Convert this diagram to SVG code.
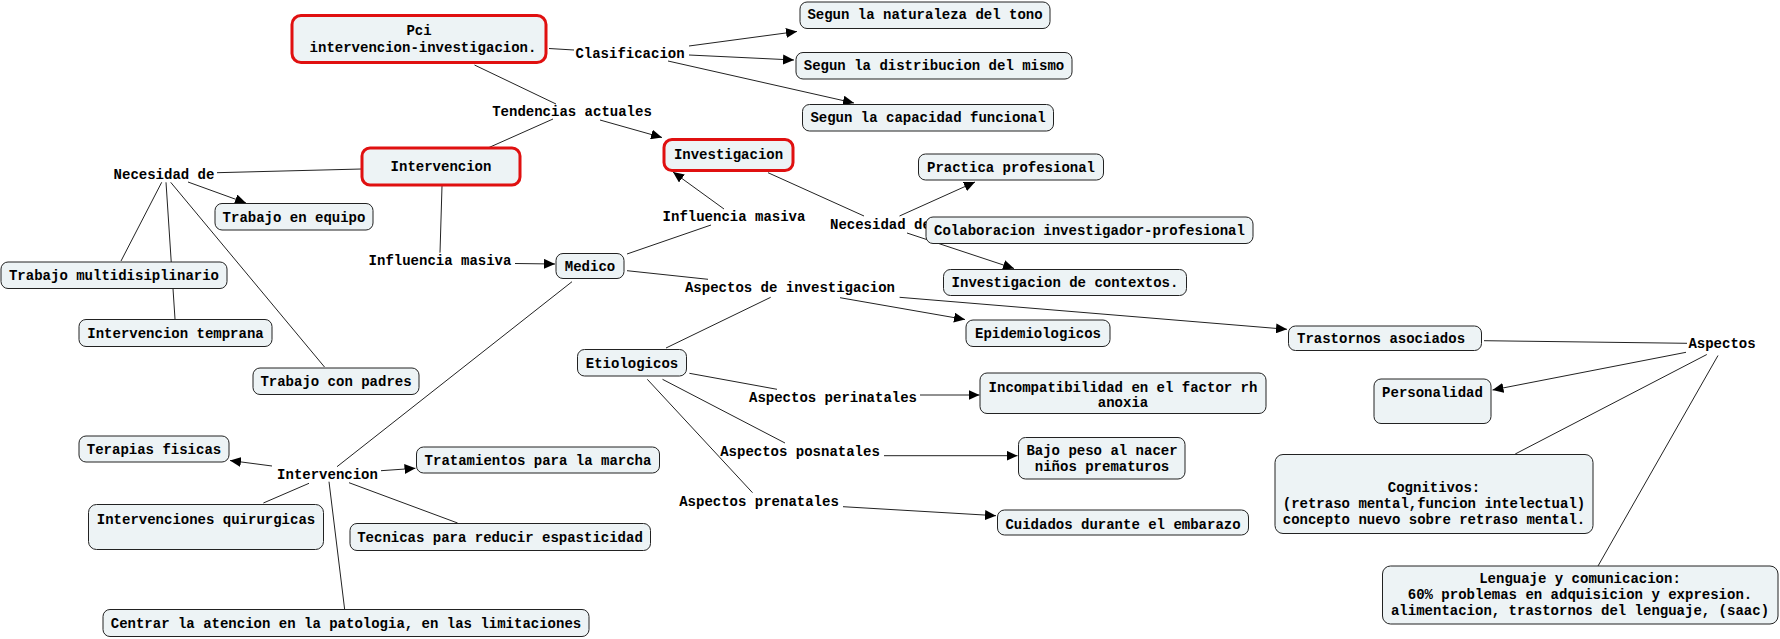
<svg xmlns="http://www.w3.org/2000/svg" width="1780" height="639" viewBox="0 0 1780 639">
<style>
text{font-family:"Liberation Mono","Courier New",monospace;font-size:14px;font-weight:bold;fill:#000}
.c{text-anchor:middle}
.b{fill:#edf3f5;stroke:#222;stroke-width:1}
.r{fill:#edf3f5;stroke:#e01010;stroke-width:3}
#conn line{stroke:#222;stroke-width:1;fill:none}
#conn line.a{marker-end:url(#ah)}
</style>
<defs>
<marker id="ah" markerUnits="userSpaceOnUse" markerWidth="11" markerHeight="10" refX="11" refY="5" orient="auto">
<path d="M0,0 L11,5 L0,10 z" fill="#000"/>
</marker>
</defs>
<rect width="1780" height="639" fill="#fff"/>
<g id="conn">
<line x1="549" y1="48.5" x2="574" y2="50"/>
<line class="a" x1="689" y1="46" x2="797" y2="31.5"/>
<line class="a" x1="689" y1="55" x2="794" y2="60"/>
<line class="a" x1="668" y1="61" x2="854" y2="103"/>
<line x1="474.5" y1="65" x2="556" y2="104"/>
<line x1="553" y1="119" x2="489" y2="147.5"/>
<line class="a" x1="600" y1="120" x2="662" y2="137.5"/>
<line x1="361.5" y1="169" x2="217" y2="172.7"/>
<line class="a" x1="188" y1="182" x2="246" y2="203"/>
<line x1="161.7" y1="182.3" x2="121" y2="261"/>
<line x1="166" y1="182.3" x2="175" y2="319"/>
<line x1="170.7" y1="182.3" x2="324.5" y2="367"/>
<line x1="442" y1="186" x2="440" y2="252.7"/>
<line class="a" x1="515" y1="263.5" x2="555" y2="264"/>
<line x1="627" y1="254" x2="711" y2="225"/>
<line class="a" x1="724" y1="209" x2="673" y2="172"/>
<line x1="768" y1="172.7" x2="864" y2="216"/>
<line class="a" x1="899.5" y1="216" x2="975" y2="182"/>
<line class="a" x1="907" y1="233" x2="1014" y2="268.5"/>
<line x1="627" y1="270.7" x2="708" y2="279.3"/>
<line x1="770.7" y1="297.3" x2="666" y2="348"/>
<line class="a" x1="840" y1="297.7" x2="965" y2="319.5"/>
<line class="a" x1="899.6" y1="297.3" x2="1287" y2="329.3"/>
<line x1="1484" y1="340.7" x2="1687" y2="343.3"/>
<line class="a" x1="1686" y1="352.3" x2="1492.5" y2="390"/>
<line x1="1706.8" y1="354.5" x2="1515.2" y2="454"/>
<line x1="1718" y1="355.5" x2="1598" y2="566"/>
<line x1="689.4" y1="373.3" x2="777" y2="389.3"/>
<line class="a" x1="920" y1="395" x2="979.5" y2="395"/>
<line x1="662.5" y1="379.3" x2="785" y2="443"/>
<line class="a" x1="884" y1="455.7" x2="1017.5" y2="455.7"/>
<line x1="647.3" y1="379.3" x2="752.5" y2="492.7"/>
<line class="a" x1="843" y1="506.7" x2="996" y2="515.7"/>
<line x1="572" y1="281.7" x2="337" y2="466.7"/>
<line class="a" x1="272" y1="466" x2="230" y2="460.5"/>
<line class="a" x1="381" y1="470.7" x2="415.5" y2="468.3"/>
<line x1="309" y1="483.3" x2="263.4" y2="503"/>
<line x1="329" y1="481.7" x2="344.6" y2="609"/>
<line x1="349" y1="482.7" x2="457.6" y2="523"/>
</g>
<g id="lbl_clasificacion"><text class="c" x="630" y="58">Clasificacion</text></g>
<g id="lbl_tendencias"><text class="c" x="572" y="116">Tendencias actuales</text></g>
<g id="lbl_necesidad1"><text class="c" x="164" y="179">Necesidad de</text></g>
<g id="lbl_influencia1"><text class="c" x="440" y="265">Influencia masiva</text></g>
<g id="lbl_influencia2"><text class="c" x="734" y="221">Influencia masiva</text></g>
<g id="lbl_necesidad2"><text x="830" y="229">Necesidad de</text></g>
<g id="lbl_aspinv"><text class="c" x="790" y="292">Aspectos de investigacion</text></g>
<g id="lbl_perinatales"><text class="c" x="833" y="402">Aspectos perinatales</text></g>
<g id="lbl_posnatales"><text class="c" x="800" y="456">Aspectos posnatales</text></g>
<g id="lbl_prenatales"><text class="c" x="759" y="506">Aspectos prenatales</text></g>
<g id="lbl_aspectos"><text class="c" x="1722" y="348">Aspectos</text></g>
<g id="lbl_intervencion2"><text class="c" x="327.5" y="479">Intervencion</text></g>
<g id="n_pci"><rect class="r" x="292" y="15.5" width="254" height="47" rx="9"/><text class="c" x="419" y="35">Pci</text><text class="c" x="423" y="52">intervencion-investigacion.</text></g>
<g id="n_nat"><rect class="b" x="800" y="2" width="250" height="26.5" rx="7"/><text class="c" x="925" y="19">Segun la naturaleza del tono</text></g>
<g id="n_dist"><rect class="b" x="796" y="52.5" width="276" height="26.5" rx="7"/><text class="c" x="934" y="70">Segun la distribucion del mismo</text></g>
<g id="n_cap"><rect class="b" x="802.5" y="104.5" width="251" height="26.5" rx="7"/><text class="c" x="928" y="122">Segun la capacidad funcional</text></g>
<g id="n_investigacion"><rect class="r" x="664" y="139.5" width="129" height="31" rx="8"/><text class="c" x="728.5" y="159">Investigacion</text></g>
<g id="n_intervencion"><rect class="r" x="362" y="148" width="158" height="37" rx="8"/><text class="c" x="441" y="171">Intervencion</text></g>
<g id="n_equipo"><rect class="b" x="215" y="203.5" width="158" height="26.5" rx="7"/><text class="c" x="294" y="221.5">Trabajo en equipo</text></g>
<g id="n_multi"><rect class="b" x="1" y="262" width="226" height="26.5" rx="7"/><text class="c" x="114" y="280">Trabajo multidisiplinario</text></g>
<g id="n_temprana"><rect class="b" x="79" y="319.5" width="193" height="27" rx="7"/><text class="c" x="175.5" y="337.5">Intervencion temprana</text></g>
<g id="n_padres"><rect class="b" x="253" y="368" width="166" height="26.5" rx="7"/><text class="c" x="336" y="385.5">Trabajo con padres</text></g>
<g id="n_medico"><rect class="b" x="556" y="253.5" width="68" height="25" rx="7"/><text class="c" x="590" y="271">Medico</text></g>
<g id="n_practica"><rect class="b" x="918.5" y="154" width="185" height="26" rx="7"/><text class="c" x="1011" y="171.5">Practica profesional</text></g>
<g id="n_colab"><rect class="b" x="926" y="217" width="327" height="26.5" rx="7"/><text class="c" x="1089.5" y="234.5">Colaboracion investigador-profesional</text></g>
<g id="n_contextos"><rect class="b" x="943.5" y="269.5" width="243" height="26" rx="7"/><text class="c" x="1065" y="287">Investigacion de contextos.</text></g>
<g id="n_epidem"><rect class="b" x="966" y="320" width="144" height="26.5" rx="7"/><text class="c" x="1038" y="338">Epidemiologicos</text></g>
<g id="n_trastornos"><rect class="b" x="1288.5" y="326" width="193" height="24.5" rx="7"/><text x="1297" y="343">Trastornos asociados</text></g>
<g id="n_etio"><rect class="b" x="577.5" y="349.5" width="109" height="26.5" rx="7"/><text class="c" x="632" y="367.5">Etiologicos</text></g>
<g id="n_incomp"><rect class="b" x="980" y="373" width="286" height="40.5" rx="7"/><text class="c" x="1123" y="391.5">Incompatibilidad en el factor rh</text><text class="c" x="1123" y="407">anoxia</text></g>
<g id="n_bajo"><rect class="b" x="1018.5" y="437.5" width="166.5" height="41.5" rx="7"/><text class="c" x="1102" y="455">Bajo peso al nacer</text><text class="c" x="1102" y="470.5">niños prematuros</text></g>
<g id="n_cuidados"><rect class="b" x="997.5" y="510" width="251" height="25" rx="7"/><text class="c" x="1123" y="528.5">Cuidados durante el embarazo</text></g>
<g id="n_personalidad"><rect class="b" x="1374" y="379" width="117" height="44.5" rx="7"/><text class="c" x="1432.5" y="397">Personalidad</text></g>
<g id="n_cognitivos"><rect class="b" x="1275" y="454.5" width="318" height="79" rx="8"/><text class="c" x="1434" y="492">Cognitivos:</text><text class="c" x="1434" y="507.5">(retraso mental,funcion intelectual)</text><text class="c" x="1434" y="523.5">concepto nuevo sobre retraso mental.</text></g>
<g id="n_lenguaje"><rect class="b" x="1382.5" y="566" width="395.5" height="58" rx="8"/><text class="c" x="1580" y="583">Lenguaje y comunicacion:</text><text class="c" x="1580" y="599">60% problemas en adquisicion y expresion.</text><text class="c" x="1580" y="615">alimentacion, trastornos del lenguaje, (saac)</text></g>
<g id="n_terapias"><rect class="b" x="79" y="436" width="150" height="26" rx="7"/><text class="c" x="154" y="453.5">Terapias fisicas</text></g>
<g id="n_marcha"><rect class="b" x="416.5" y="447" width="243" height="26" rx="7"/><text class="c" x="538" y="464.5">Tratamientos para la marcha</text></g>
<g id="n_quirurgicas"><rect class="b" x="88.5" y="504.5" width="235" height="45" rx="8"/><text class="c" x="206" y="523.5">Intervenciones quirurgicas</text></g>
<g id="n_tecnicas"><rect class="b" x="350" y="523.5" width="300.5" height="27" rx="7"/><text class="c" x="500" y="542">Tecnicas para reducir espasticidad</text></g>
<g id="n_centrar"><rect class="b" x="103" y="609.5" width="486" height="27" rx="7"/><text class="c" x="346" y="627.5">Centrar la atencion en la patologia, en las limitaciones</text></g>
</svg>
